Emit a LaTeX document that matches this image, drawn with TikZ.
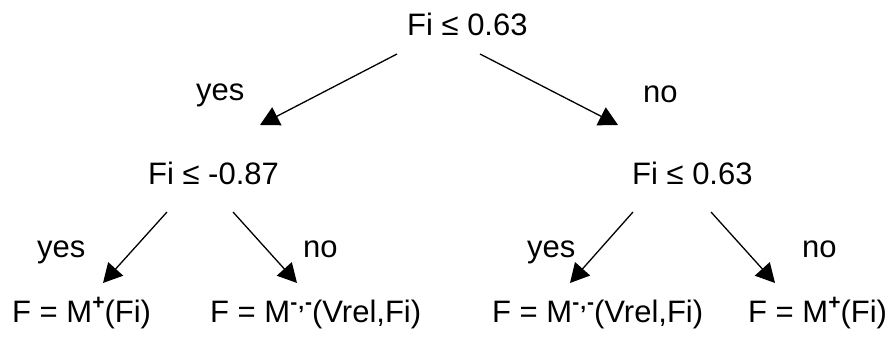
\documentclass[tikz,border=0pt]{standalone}
\usepackage{fontspec}
\setmainfont{Liberation Sans}
\usetikzlibrary{arrows.meta}
\newcommand{\supmark}[1]{\raisebox{0.42em}{\fontsize{21}{21}\selectfont\bfseries #1}}
\begin{document}
\begin{tikzpicture}[x=1pt,y=-1pt,
  lbl/.style={anchor=base west,inner sep=0pt,font=\fontsize{31}{31}\selectfont},
  arr/.style={line width=1.3pt,-{Triangle[length=19pt,width=20pt]}}]
\useasboundingbox (0,0) rectangle (892,347);
% test nodes
\node[lbl] (root) at (407,36) {Fi ≤ 0.63};
\node[lbl] (yes1) at (196,101) {yes};
\node[lbl] (no1) at (643,103) {no};
\node[lbl] (testl) at (148,185) {Fi ≤ -0.87};
\node[lbl] (testr) at (632,185) {Fi ≤ 0.63};
\node[lbl] (yes2l) at (37,258) {yes};
\node[lbl] (no2l) at (303,258) {no};
\node[lbl] (yes2r) at (527,258) {yes};
\node[lbl] (no2r) at (802,258) {no};
% leaves
\node[lbl] (leaf1) at (12,323) {F = M\supmark{+}(Fi)};
\node[lbl] (leaf2) at (210,323) {F = M\supmark{-\kern1pt,\kern1pt-}(Vrel,Fi)};
\node[lbl] (leaf3) at (492,323) {F = M\supmark{-\kern1pt,\kern1pt-}(Vrel,Fi)};
\node[lbl] (leaf4) at (748,323) {F = M\supmark{+}(Fi)};
% connector ends
\coordinate (r1s) at (397,54);  \coordinate (r1e) at (260,125);
\coordinate (r2s) at (480,54);  \coordinate (r2e) at (618,125);
\coordinate (l1s) at (167,212); \coordinate (l1e) at (103,283);
\coordinate (l2s) at (233,212); \coordinate (l2e) at (297,283);
\coordinate (m1s) at (633,212); \coordinate (m1e) at (570,283);
\coordinate (m2s) at (711,212); \coordinate (m2e) at (775,283);
\draw[arr] (r1s) -- (r1e);
\draw[arr] (r2s) -- (r2e);
\draw[arr] (l1s) -- (l1e);
\draw[arr] (l2s) -- (l2e);
\draw[arr] (m1s) -- (m1e);
\draw[arr] (m2s) -- (m2e);
\end{tikzpicture}
\end{document}
